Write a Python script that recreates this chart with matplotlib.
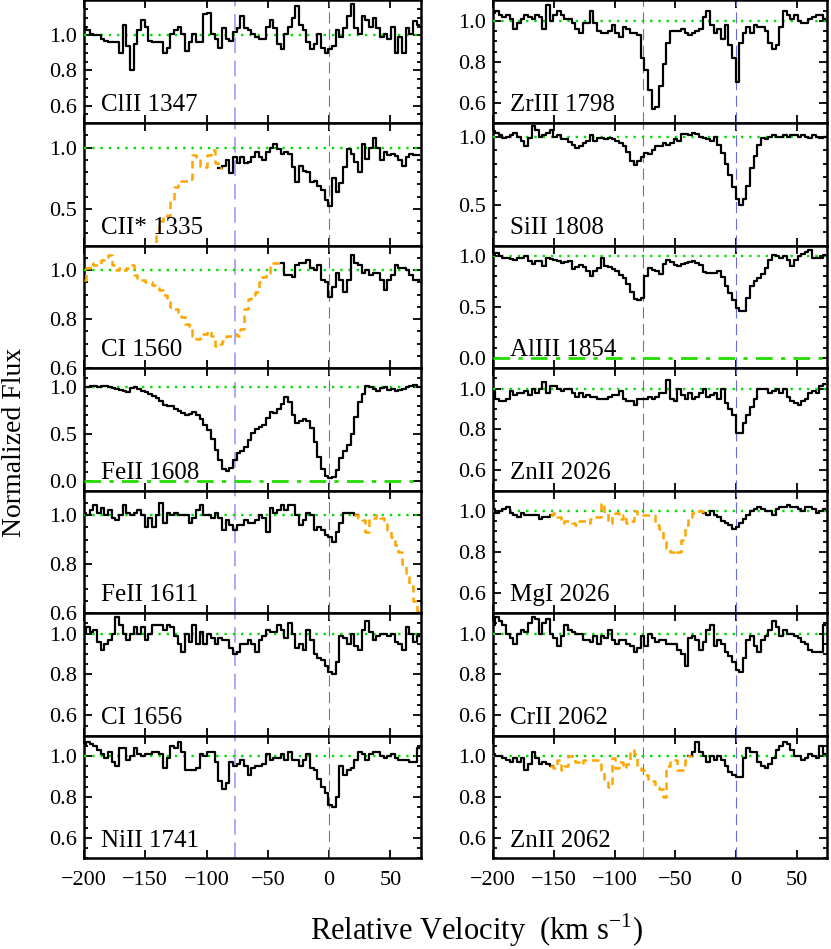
import numpy as np
import matplotlib
matplotlib.use('Agg')
import matplotlib.pyplot as plt
from matplotlib.ticker import MultipleLocator, FixedLocator, FormatStrFormatter

plt.rcParams['font.family'] = ['Liberation Serif', 'DejaVu Serif']
plt.rcParams['mathtext.fontset'] = 'custom'
plt.rcParams['mathtext.rm'] = 'Liberation Serif'

# velocity bins (km/s), pixel width ~3 km/s
velocity = np.arange(-200, 76, 3)

# ---- left column ----
cl2_1347 = [1.05, 1.03, 1.01, 1.00, 1.00, 0.98, 0.97, 0.96, 0.96, 0.96,
            0.90, 1.06, 0.94, 0.80, 0.95, 1.03, 1.09, 1.05, 0.97, 0.96,
            0.96, 0.96, 0.90, 0.93, 1.01, 1.03, 1.05, 1.01, 0.91, 0.96,
            1.01, 0.96, 0.96, 1.12, 1.13, 1.01, 0.98, 0.93, 1.04, 0.98,
            0.97, 1.02, 1.04, 1.11, 1.04, 1.03, 1.01, 0.99, 0.98, 0.98,
            1.05, 1.09, 1.04, 0.95, 0.92, 1.01, 1.05, 1.10, 1.17, 1.06,
            1.03, 0.96, 0.92, 0.95, 1.01, 0.93, 0.90, 0.92, 0.94, 1.03,
            0.99, 1.04, 1.11, 1.18, 1.04, 1.01, 1.11, 1.09, 1.05, 1.10,
            1.04, 0.99, 1.01, 0.98, 1.05, 0.90, 0.99, 0.90, 1.04, 1.01, 1.08, 1.06]

c2s_1335 = [0.10, 0.10, 0.10, 0.10, 0.10, 0.10, 0.10, 0.10, 0.10, 0.10,
            0.10, 0.10, 0.10, 0.10, 0.10, 0.10, 0.10, 0.10, 0.10, 0.15,
            0.28, 0.40, 0.45, 0.44, 0.57, 0.68, 0.72, 0.73, 0.73, 0.74,
            0.94, 0.92, 0.85, 0.84, 0.94, 0.98, 0.87, 0.83, 0.85, 0.90,
            0.79, 0.92, 0.87, 0.92, 0.87, 0.88, 0.92, 0.96, 0.92, 0.90,
            0.96, 1.00, 1.03, 0.99, 0.95, 0.96, 0.95, 0.84, 0.72, 0.85,
            0.81, 0.80, 0.72, 0.73, 0.69, 0.65, 0.57, 0.52, 0.75, 0.64,
            0.71, 0.84, 0.99, 0.95, 0.88, 0.80, 1.03, 0.91, 1.00, 1.08,
            1.00, 0.90, 0.96, 0.94, 0.95, 0.93, 0.90, 0.85, 0.92, 0.95, 0.94, 0.94]

c1_1560 = [0.96, 1.01, 1.03, 1.02, 1.02, 1.04, 1.05, 1.06, 1.02, 1.00,
           1.01, 1.00, 1.01, 1.02, 0.98, 0.96, 0.96, 0.95, 0.95, 0.94,
           0.93, 0.92, 0.90, 0.87, 0.85, 0.84, 0.83, 0.81, 0.78, 0.76,
           0.73, 0.72, 0.73, 0.74, 0.75, 0.73, 0.69, 0.70, 0.71, 0.73,
           0.73, 0.74, 0.73, 0.76, 0.84, 0.88, 0.90, 0.91, 0.95, 0.97,
           0.99, 1.02, 1.03, 1.03, 1.03, 0.98, 0.98, 0.97, 1.02, 1.03,
           1.03, 1.04, 1.01, 1.00, 1.02, 0.96, 0.95, 0.89, 0.93, 0.99,
           0.96, 0.91, 0.96, 1.06, 1.03, 1.02, 0.99, 1.00, 0.98, 0.99,
           0.99, 0.96, 0.92, 0.96, 0.98, 1.02, 1.01, 1.01, 1.00, 0.98, 0.96, 0.96]

fe2_1608 = [1.00, 1.00, 1.01, 1.01, 1.00, 1.01, 1.01, 1.00, 0.99, 0.98,
            0.97, 0.96, 0.95, 0.99, 1.00, 0.98, 0.96, 0.95, 0.93, 0.90,
            0.88, 0.85, 0.81, 0.80, 0.80, 0.77, 0.74, 0.72, 0.70, 0.71,
            0.73, 0.70, 0.66, 0.60, 0.54, 0.45, 0.33, 0.22, 0.13, 0.11,
            0.14, 0.22, 0.30, 0.32, 0.36, 0.44, 0.51, 0.55, 0.57, 0.60,
            0.67, 0.73, 0.72, 0.77, 0.82, 0.89, 0.84, 0.70, 0.62, 0.64,
            0.66, 0.64, 0.56, 0.42, 0.26, 0.13, 0.06, 0.03, 0.04, 0.12,
            0.25, 0.32, 0.38, 0.50, 0.68, 0.84, 0.93, 1.01, 1.00, 0.98,
            0.96, 0.99, 1.00, 0.97, 0.98, 0.96, 0.97, 0.98, 1.00, 1.01, 1.02, 1.00]

fe2_1611 = [1.01, 1.00, 1.02, 1.04, 1.01, 1.03, 1.00, 1.02, 0.99, 0.98,
            1.00, 1.04, 1.01, 1.00, 1.01, 1.02, 1.00, 0.95, 0.99, 0.95,
            1.00, 1.05, 0.97, 1.01, 1.00, 1.01, 1.00, 1.00, 1.00, 0.97,
            0.99, 1.02, 1.04, 1.00, 1.00, 0.99, 1.01, 0.99, 0.94, 0.98,
            0.96, 0.94, 0.96, 0.96, 0.98, 0.97, 0.97, 0.98, 1.00, 0.99,
            0.93, 1.03, 1.01, 1.02, 1.04, 1.02, 1.04, 1.04, 1.00, 0.96,
            0.98, 1.01, 1.00, 0.94, 0.95, 0.94, 0.92, 0.91, 0.89, 0.93,
            0.97, 1.01, 1.01, 1.01, 1.00, 0.99, 0.98, 0.93, 0.99, 0.99,
            1.00, 0.99, 0.97, 0.94, 0.91, 0.88, 0.85, 0.80, 0.75, 0.71, 0.65, 0.61]

c1_1656 = [1.00, 1.03, 1.01, 1.02, 0.96, 0.92, 0.95, 0.97, 1.00, 1.08,
           1.04, 1.00, 0.97, 1.00, 1.03, 1.00, 1.03, 0.97, 1.00, 1.04,
           1.04, 1.04, 1.02, 1.04, 1.03, 0.99, 0.95, 0.91, 1.00, 0.96,
           1.04, 0.95, 1.01, 0.95, 1.00, 0.98, 0.95, 0.98, 0.97, 0.97,
           0.93, 0.90, 0.91, 0.95, 0.95, 0.97, 0.95, 0.91, 0.97, 0.99,
           1.02, 1.01, 1.01, 1.04, 1.02, 0.98, 1.05, 1.00, 0.93, 0.95,
           0.92, 1.02, 0.97, 0.90, 0.88, 0.87, 0.84, 0.81, 0.80, 0.86,
           0.99, 0.98, 0.95, 1.00, 0.94, 0.92, 1.02, 1.06, 1.01, 0.97,
           0.99, 1.00, 1.00, 0.99, 1.00, 0.96, 0.95, 0.92, 1.03, 1.00, 0.96, 0.99]

ni2_1741 = [1.05, 1.07, 1.06, 1.05, 1.03, 1.01, 0.99, 1.02, 0.97, 0.95,
            1.04, 1.04, 0.98, 1.00, 1.04, 1.01, 1.00, 1.01, 1.01, 1.02,
            1.02, 1.01, 0.94, 0.99, 1.05, 1.04, 1.07, 1.02, 0.93, 0.93,
            0.93, 0.94, 1.01, 1.00, 1.02, 1.02, 0.97, 0.88, 0.84, 0.87,
            0.97, 0.95, 0.96, 0.98, 0.95, 0.91, 0.94, 0.95, 0.95, 0.96,
            1.01, 0.98, 0.99, 0.99, 1.01, 0.98, 1.02, 0.98, 0.98, 0.95,
            0.98, 1.01, 0.94, 0.93, 0.89, 0.85, 0.82, 0.76, 0.75, 0.80,
            0.95, 0.91, 0.93, 0.94, 0.98, 1.02, 1.01, 0.98, 1.01, 1.02,
            1.02, 1.00, 0.99, 1.00, 1.01, 0.99, 0.98, 0.98, 0.98, 0.97, 0.97, 1.04]

# ---- right column ----
zr3_1798 = [1.04, 1.05, 1.03, 1.02, 1.03, 1.01, 0.96, 0.99, 1.01, 1.03,
            1.02, 1.01, 1.03, 1.02, 0.96, 1.08, 1.00, 1.03, 1.05, 1.03,
            1.01, 1.01, 0.99, 0.96, 0.94, 0.99, 0.99, 1.05, 0.99, 0.95,
            0.94, 0.94, 0.95, 0.98, 0.94, 0.92, 0.97, 0.96, 0.94, 0.94,
            0.93, 0.82, 0.76, 0.66, 0.57, 0.58, 0.68, 0.79, 0.89, 0.95,
            0.95, 0.95, 0.96, 0.94, 0.93, 0.94, 0.95, 0.96, 1.02, 1.05,
            0.98, 0.94, 0.96, 0.91, 0.98, 0.88, 0.82, 0.70, 0.89, 0.94,
            0.97, 0.94, 0.98, 0.97, 0.97, 0.95, 0.89, 0.86, 0.88, 0.97,
            1.05, 1.03, 1.01, 1.03, 1.00, 0.99, 0.99, 1.01, 1.02, 1.03, 1.03, 1.01]

si2_1808 = [1.04, 1.03, 1.01, 0.99, 1.00, 1.01, 1.03, 1.00, 0.97, 0.93,
            0.99, 1.08, 1.05, 1.00, 1.01, 1.03, 1.05, 1.00, 1.01, 0.98,
            0.98, 0.96, 0.94, 0.92, 0.93, 0.95, 0.97, 1.01, 0.97, 0.99,
            0.99, 0.98, 0.99, 0.98, 0.97, 0.95, 0.93, 0.89, 0.82, 0.79,
            0.82, 0.85, 0.88, 0.87, 0.90, 0.93, 0.93, 0.95, 0.94, 0.95,
            0.98, 0.97, 1.02, 1.02, 1.01, 1.03, 1.02, 1.00, 0.99, 0.98,
            0.97, 1.00, 0.94, 0.88, 0.80, 0.72, 0.63, 0.54, 0.50, 0.54,
            0.64, 0.77, 0.86, 0.94, 0.99, 0.98, 1.00, 1.01, 1.00, 1.00,
            1.01, 1.00, 1.01, 1.01, 1.00, 1.01, 1.00, 0.99, 1.01, 1.00, 0.99, 1.00]

al3_1854 = [1.01, 1.03, 1.00, 0.98, 0.98, 0.97, 0.96, 0.98, 0.98, 1.00,
            0.95, 0.92, 0.95, 0.95, 0.90, 0.98, 0.97, 0.96, 0.95, 0.93,
            0.94, 0.95, 0.87, 0.89, 0.91, 0.89, 0.85, 0.80, 0.85, 0.88,
            0.98, 0.90, 0.89, 0.87, 0.85, 0.81, 0.78, 0.72, 0.65, 0.58,
            0.57, 0.59, 0.80, 0.88, 0.86, 0.85, 0.82, 0.92, 0.96, 0.94,
            0.91, 0.90, 0.92, 0.93, 0.94, 0.95, 0.93, 0.91, 0.84, 0.83,
            0.83, 0.83, 0.85, 0.79, 0.70, 0.64, 0.57, 0.49, 0.46, 0.46,
            0.59, 0.70, 0.75, 0.78, 0.82, 0.88, 0.96, 1.01, 1.00, 0.98,
            1.00, 0.96, 0.90, 0.96, 1.00, 1.02, 1.04, 1.06, 0.98, 0.98, 0.98, 1.01]

zn2_2026 = [0.99, 0.95, 0.94, 0.94, 0.95, 0.99, 0.97, 0.98, 0.98, 0.99,
            0.97, 1.00, 0.98, 1.00, 1.03, 0.98, 1.01, 1.01, 1.00, 0.99,
            1.00, 1.00, 0.98, 0.96, 0.98, 0.96, 0.97, 0.96, 0.96, 0.95,
            0.95, 0.95, 0.96, 0.97, 0.97, 0.99, 0.95, 0.94, 0.94, 0.92,
            0.95, 0.95, 0.95, 0.96, 0.95, 0.96, 0.98, 0.98, 1.04, 0.95,
            0.94, 1.00, 0.97, 0.95, 0.98, 0.95, 0.96, 0.98, 1.00, 0.96,
            0.97, 0.98, 0.95, 1.00, 0.93, 0.90, 0.87, 0.78, 0.78, 0.83,
            0.87, 0.91, 0.95, 1.00, 1.00, 1.00, 0.98, 0.99, 1.00, 0.98,
            1.00, 0.96, 0.94, 0.93, 0.92, 0.94, 0.95, 0.98, 0.99, 0.98, 1.01, 1.02]

mg1_2026 = [1.01, 0.99, 1.00, 1.01, 1.02, 0.99, 0.98, 0.97, 0.99, 0.98,
            0.98, 0.98, 0.98, 0.96, 0.97, 0.97, 0.98, 0.99, 0.97, 0.94,
            0.95, 0.95, 0.94, 0.93, 0.95, 0.95, 0.94, 0.96, 0.97, 0.97,
            1.04, 0.99, 0.94, 0.98, 0.99, 0.96, 0.98, 0.94, 0.95, 1.00,
            0.98, 0.98, 0.98, 0.98, 0.98, 0.93, 0.91, 0.86, 0.82, 0.80,
            0.79, 0.80, 0.86, 0.93, 0.97, 0.99, 1.00, 1.00, 0.99, 0.98,
            1.00, 0.98, 0.97, 0.95, 0.94, 0.93, 0.91, 0.92, 0.94, 0.96,
            0.98, 1.00, 1.01, 1.02, 1.01, 1.00, 1.00, 0.98, 1.01, 1.02,
            1.02, 1.03, 1.02, 1.02, 1.01, 1.00, 1.02, 1.02, 1.01, 0.99, 1.00, 1.01]

cr2_2062 = [1.04, 1.08, 1.06, 1.04, 1.00, 0.98, 0.95, 1.00, 1.02, 1.01,
            1.05, 1.08, 1.07, 1.00, 1.05, 1.07, 1.00, 0.98, 0.94, 0.99,
            1.04, 1.02, 1.01, 1.00, 1.00, 0.97, 0.97, 0.96, 0.99, 0.95,
            0.99, 0.98, 1.02, 0.97, 0.95, 0.97, 0.97, 0.95, 0.94, 0.91,
            0.93, 0.99, 0.94, 1.00, 0.98, 0.96, 0.97, 0.97, 0.95, 0.95,
            0.95, 0.92, 0.90, 0.84, 0.98, 0.99, 0.97, 0.92, 0.96, 1.02,
            1.04, 0.94, 0.97, 0.95, 0.91, 0.89, 0.86, 0.82, 0.81, 0.88,
            0.97, 0.99, 0.94, 0.91, 0.97, 0.99, 1.02, 1.06, 1.03, 0.99,
            1.02, 1.00, 1.00, 0.99, 0.98, 0.96, 0.95, 0.92, 0.91, 0.91, 0.91, 1.04]

zn2_2062 = [1.01, 1.00, 1.00, 0.99, 0.98, 0.97, 0.99, 0.97, 0.99, 0.93,
            0.96, 1.02, 0.99, 0.96, 0.97, 0.96, 0.95, 0.94, 0.98, 0.93,
            0.95, 1.00, 1.00, 0.97, 0.96, 0.98, 0.98, 0.98, 0.98, 0.98,
            0.93, 0.89, 0.85, 0.99, 0.94, 0.97, 0.94, 0.96, 1.03, 1.01,
            0.95, 0.93, 0.91, 0.89, 0.88, 0.85, 0.84, 0.80, 0.95, 0.98,
            0.98, 0.93, 0.93, 0.98, 1.00, 1.02, 1.07, 1.02, 1.00, 0.97,
            1.00, 0.98, 1.00, 0.98, 0.95, 0.92, 0.91, 0.90, 0.90, 0.99,
            1.04, 1.02, 1.02, 0.97, 0.95, 0.94, 0.96, 0.99, 1.03, 1.05,
            1.07, 1.06, 1.03, 1.00, 1.00, 0.98, 0.99, 1.01, 1.00, 0.99, 1.05, 1.01]

left_labels = ['ClII 1347', 'CII* 1335', 'CI 1560', 'FeII 1608', 'FeII 1611', 'CI 1656', 'NiII 1741']
right_labels = ['ZrIII 1798', 'SiII 1808', 'AlIII 1854', 'ZnII 2026', 'MgI 2026', 'CrII 2062', 'ZnII 2062']
left_flux = [cl2_1347, c2s_1335, c1_1560, fe2_1608, fe2_1611, c1_1656, ni2_1741]
right_flux = [zr3_1798, si2_1808, al3_1854, zn2_2026, mg1_2026, cr2_2062, zn2_2062]

# y limits and major tick step for each panel
left_ylim = [(0.5, 1.2), (0.2, 1.2), (0.6, 1.1), (-0.1, 1.2), (0.6, 1.1), (0.5, 1.1), (0.5, 1.1)]
right_ylim = [(0.5, 1.1), (0.2, 1.1), (-0.1, 1.1), (0.5, 1.1), (0.5, 1.1), (0.5, 1.1), (0.5, 1.1)]
left_major = [0.2, 0.5, 0.2, 0.5, 0.2, 0.2, 0.2]
right_major = [0.2, 0.5, 0.5, 0.2, 0.2, 0.2, 0.2]

# velocity ranges of blended (orange) parts
left_blend = [None, (-200, -92), (-200, -41), None, (25, 75), None, None]
right_blend = [None, None, None, None, (-149, -29), None, (-149, -41)]

left_zero = [False, False, False, True, False, False, False]
right_zero = [False, False, True, False, False, False, False]

fig = plt.figure(figsize=(8.31, 9.49), dpi=100)

top = 0.9995
bottom = 0.0956
h = (top - bottom) / 7
col_x = [(0.1011, 0.4055), (0.5936, 0.4019)]


def draw_panel(ax, flux, label, ylim, major, blend, zero, left_col, last):
    flux = np.array(flux)
    if blend is not None:
        m = (velocity >= blend[0]) & (velocity <= blend[1])
        ext = m.copy()
        ext[1:] |= m[:-1]
        ext[:-1] |= m[1:]
        black = np.where(m, np.nan, flux)
        orange = np.where(ext, flux, np.nan)
        ax.plot(velocity, black, drawstyle='steps-mid', color='black', lw=1.6, zorder=4)
        ax.plot(velocity, orange, drawstyle='steps-mid', color='orange', lw=1.8,
                linestyle=(0, (3, 2)), zorder=4)
    else:
        ax.plot(velocity, flux, drawstyle='steps-mid', color='black', lw=1.6, zorder=4)

    ax.axhline(1.0, color='#00e000', lw=1.7, linestyle=(0, (1, 2.5)), zorder=3)
    if zero:
        ax.axhline(0.0, color='#22dd00', lw=2.0, linestyle=(0, (6, 3, 1.5, 3)), zorder=3)
    if left_col:
        ax.axvline(-77, color='#a8a8ff', lw=1.4, linestyle=(0, (8, 4)), zorder=2)
        ax.axvline(0, color='#6a6ae0', lw=0.8, linestyle=(0, (10, 5)), zorder=2)
    else:
        ax.axvline(-77, color='#6a6ae0', lw=0.8, linestyle=(0, (10, 5)), zorder=2)
        ax.axvline(0, color='#6a6ae0', lw=0.8, linestyle=(0, (10, 5)), zorder=2)

    ax.set_xlim(-200, 75)
    ax.set_ylim(*ylim)
    # major ticks inside the range, none on the top edge
    start = np.ceil(ylim[0] / major - 1e-6) * major
    ticks = [round(t, 2) + 0.0 for t in np.arange(start, ylim[1] - 1e-6, major)]
    ax.yaxis.set_major_locator(FixedLocator(ticks))
    ax.yaxis.set_minor_locator(MultipleLocator(0.05 if major == 0.2 else 0.1))
    ax.yaxis.set_major_formatter(FormatStrFormatter('%.1f'))
    ax.xaxis.set_major_locator(MultipleLocator(50))
    ax.tick_params(which='both', direction='in', top=True, right=True, width=1.3)
    ax.tick_params(which='major', length=5.5, labelsize=16, pad=5)
    ax.tick_params(which='minor', length=3)
    ax.tick_params(axis='x', pad=9)
    if not last:
        ax.tick_params(axis='x', labelbottom=False)
    for s in ax.spines.values():
        s.set_linewidth(1.8)
    ax.text(0.05, 0.145, label, transform=ax.transAxes, fontsize=18,
            ha='left', va='center', zorder=5)


for col, (labels, fluxes, ylims, majors, blends, zeros) in enumerate([
        (left_labels, left_flux, left_ylim, left_major, left_blend, left_zero),
        (right_labels, right_flux, right_ylim, right_major, right_blend, right_zero)]):
    x0, w = col_x[col]
    for r in range(7):
        ax = fig.add_axes([x0, top - (r + 1) * h, w, h])
        draw_panel(ax, fluxes[r], labels[r], ylims[r], majors[r], blends[r],
                   zeros[r], col == 0, r == 6)

fig.text(0.017, 1 - 442 / 949, 'Normalized Flux', rotation=90, fontsize=20,
         ha='center', va='center')
fig.text(0.573, 0.0095, 'Relative Velocity  (km s$^{-1}$)', fontsize=22,
         ha='center', va='baseline')

fig.savefig('out.png', dpi=100)
